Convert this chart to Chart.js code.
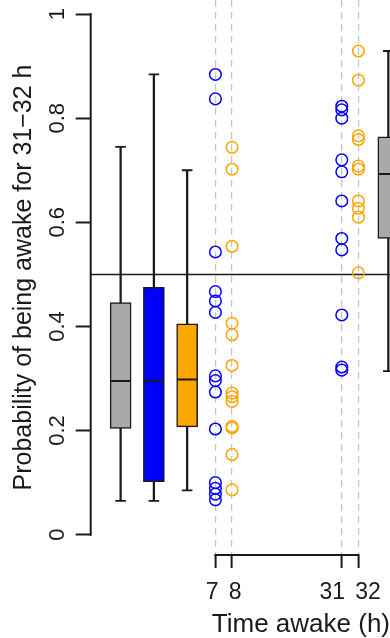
<!DOCTYPE html>
<html><head><meta charset="utf-8">
<script src="https://cdn.jsdelivr.net/npm/chart.js@4/dist/chart.umd.min.js"></script>
<style>html,body{margin:0;padding:0;background:#fff;overflow:hidden}</style>
</head><body>
<canvas id="c" width="390" height="638"></canvas>
<script>
// ---- data ----
const boxPos    = [1.8, 3.8, 5.8, 17.9];
const boxColors = ['#a9a9a9', '#0000ff', '#ffa500', '#a9a9a9'];
const boxMin    = [0.065, 0.065, 0.085, 0.314];
const boxQ1     = [0.204, 0.102, 0.207, 0.569];
const boxMed    = [0.295, 0.295, 0.298, 0.693];
const boxQ3     = [0.446, 0.475, 0.405, 0.764];
const boxMax    = [0.745, 0.884, 0.700, 0.929];

const colPos    = [7.5, 8.5, 15.1, 16.1];
const blue7     = [0.884, 0.837, 0.543, 0.467, 0.449, 0.427, 0.305, 0.296, 0.274, 0.203, 0.100, 0.089, 0.078, 0.067];
const orange8   = [0.744, 0.702, 0.554, 0.406, 0.384, 0.325, 0.272, 0.265, 0.256, 0.208, 0.205, 0.154, 0.086];
const blue31    = [0.823, 0.816, 0.800, 0.720, 0.697, 0.641, 0.569, 0.547, 0.422, 0.322, 0.316];
const orange32  = [0.929, 0.873, 0.766, 0.759, 0.708, 0.702, 0.641, 0.627, 0.610, 0.503];

const xTickPos    = [7.5, 8.5, 15.1, 16.1];
const xTickLabels = ['7', '8', '31', '32'];
const xTickText   = ['7 ', ' 8', '31   ', '   32'];
const yTickVals   = [0, 0.2, 0.4, 0.6, 0.8, 1];
const yTickLabels = ['0', '0.2', '0.4', '0.6', '0.8', '1'];
const refLevel    = 0.5;
const X_MIN = 0, X_MAX = 18, Y_MIN = -0.039, Y_MAX = 1.027;

const FONT = 'Liberation Sans, Arial, Helvetica, sans-serif';
const INK = '#1a1a1a';

const pts = (x, arr) => arr.map(v => ({x: x, y: v}));

const rAxes = {
  id: 'rAxes',
  afterDatasetsDraw(chart) {
    const {ctx, chartArea, scales: {x, y}} = chart;
    ctx.save();
    ctx.strokeStyle = INK; ctx.lineWidth = 2; ctx.lineCap = 'square';
    ctx.beginPath();
    ctx.moveTo(chartArea.left, y.getPixelForValue(yTickVals[0]));
    ctx.lineTo(chartArea.left, y.getPixelForValue(yTickVals[yTickVals.length - 1]));
    ctx.stroke();
    ctx.beginPath();
    ctx.moveTo(x.getPixelForValue(xTickPos[0]), chartArea.bottom);
    ctx.lineTo(x.getPixelForValue(xTickPos[xTickPos.length - 1]), chartArea.bottom);
    ctx.stroke();
    ctx.restore();
  }
};

new Chart(document.getElementById('c'), {
  type: 'bar',
  data: {
    datasets: [
      { type: 'scatter', order: 0, data: pts(colPos[0], blue7),
        pointStyle: 'circle', pointRadius: 5.8, pointBorderWidth: 1.5,
        pointBorderColor: '#0000ff', pointBackgroundColor: 'rgba(0,0,0,0)' },
      { type: 'scatter', order: 0, data: pts(colPos[1], orange8),
        pointStyle: 'circle', pointRadius: 5.8, pointBorderWidth: 1.5,
        pointBorderColor: '#ffa500', pointBackgroundColor: 'rgba(0,0,0,0)' },
      { type: 'scatter', order: 0, data: pts(colPos[2], blue31),
        pointStyle: 'circle', pointRadius: 5.8, pointBorderWidth: 1.5,
        pointBorderColor: '#0000ff', pointBackgroundColor: 'rgba(0,0,0,0)' },
      { type: 'scatter', order: 0, data: pts(colPos[3], orange32),
        pointStyle: 'circle', pointRadius: 5.8, pointBorderWidth: 1.5,
        pointBorderColor: '#ffa500', pointBackgroundColor: 'rgba(0,0,0,0)' },
      // medians
      { type: 'scatter', order: 1, data: boxPos.map((x, i) => ({x, y: boxMed[i]})),
        pointStyle: 'line', pointRadius: 10, pointBorderWidth: 2, pointBorderColor: INK },
      // whisker caps
      { type: 'scatter', order: 1,
        data: boxPos.map((x, i) => ({x, y: boxMin[i]})).concat(boxPos.map((x, i) => ({x, y: boxMax[i]}))),
        pointStyle: 'line', pointRadius: 5.3, pointBorderWidth: 1.8, pointBorderColor: INK },
      // boxes
      { type: 'bar', order: 2, grouped: false, barThickness: 21,
        data: boxPos.map((x, i) => ({x, y: [boxQ1[i], boxQ3[i]]})),
        backgroundColor: boxColors, borderColor: INK, borderWidth: 1.5, borderSkipped: false },
      // whiskers
      { type: 'bar', order: 3, grouped: false, barThickness: 1.6,
        data: boxPos.map((x, i) => ({x, y: [boxMin[i], boxMax[i]]})),
        backgroundColor: INK, borderWidth: 0 },
      // reference line
      { type: 'line', order: 4, data: [{x: X_MIN, y: refLevel}, {x: X_MAX, y: refLevel}],
        borderColor: INK, borderWidth: 1.5, pointRadius: 0, fill: false }
    ]
  },
  options: {
    responsive: false, animation: false, events: [],
    layout: {padding: 0, autoPadding: false},
    plugins: {legend: {display: false}, tooltip: {enabled: false}},
    scales: {
      x: {
        type: 'linear', min: X_MIN, max: X_MAX, offset: false,
        afterBuildTicks: s => { s.ticks = xTickPos.map(v => ({value: v})); },
        afterFit: s => { s.height = 83; s.paddingLeft = 0; s.paddingRight = 0; },
        grid: { offset: false, drawOnChartArea: true, color: '#c4c4c4', lineWidth: 1.2,
                drawTicks: true, tickLength: 13, tickColor: INK, tickWidth: 2, tickBorderDash: [] },
        border: { display: false, dash: [7, 5] },
        ticks: { autoSkip: false, minRotation: 0, maxRotation: 0, padding: 11, color: INK,
                 font: {family: FONT, size: 23}, callback: (v, i) => xTickText[i] },
        title: { display: true, text: 'Time awake (h)', align: 'end', color: INK,
                 font: {family: FONT, size: 26, lineHeight: 1}, padding: 0 }
      },
      y: {
        type: 'linear', min: Y_MIN, max: Y_MAX,
        afterBuildTicks: s => { s.ticks = yTickVals.map(v => ({value: v})); },
        afterFit: s => { s.width = 90.7; s.paddingTop = 0; s.paddingBottom = 0; },
        grid: { drawOnChartArea: false, drawTicks: true, tickLength: 15, tickColor: INK, tickWidth: 2 },
        border: { display: false },
        ticks: { minRotation: 90, maxRotation: 90, crossAlign: 'center', padding: 2, color: INK,
                 font: {family: FONT, size: 22}, callback: (v, i) => yTickLabels[i] },
        title: { display: true, text: 'Probability of being awake for 31\u221232 h', color: INK,
                 font: {family: FONT, size: 25, lineHeight: 1}, padding: {top: 12, bottom: 0} }
      }
    }
  },
  plugins: [rAxes]
});
</script>
</body></html>
